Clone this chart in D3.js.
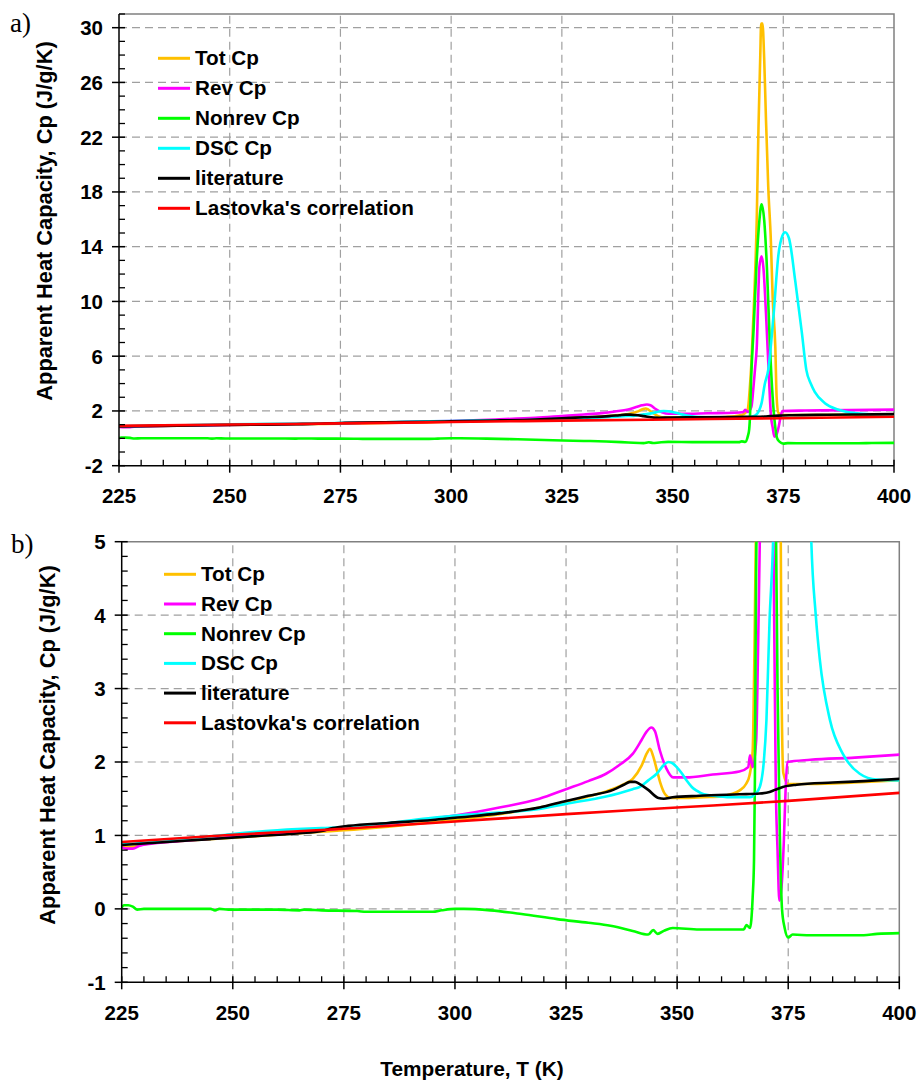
<!DOCTYPE html>
<html><head><meta charset="utf-8">
<script src="https://cdn.jsdelivr.net/npm/d3@7"></script>
<style>
body{margin:0;background:#fff}
svg{display:block}
text{font-family:"Liberation Sans",Arial,sans-serif;font-weight:bold;fill:#000}
</style>
</head><body>
<svg id="c" width="919" height="1080"></svg>
<script>
// ---------- data ----------
const seriesNames = ["Tot Cp","Rev Cp","Nonrev Cp","DSC Cp","literature","Lastovka's correlation"];
const seriesColors = ["#FFC000","#FF00FF","#00FF00","#00FFFF","#000000","#FF0000"];
const xTicks = [225,250,275,300,325,350,375,400];
const yTicksA = [-2,2,6,10,14,18,22,26,30];
const yTicksB = [-1,0,1,2,3,4,5];
const xTitle = "Temperature, T (K)";
const yTitle = "Apparent Heat Capacity, Cp (J/g/K)";

const totCp = [[225,0.86],[226,0.84],[228,0.85],[230,0.88],[240,0.93],[250,0.97],[260,1.01],[270,1.05],[275,1.07],[285,1.12],[295,1.18],[300,1.21],[310,1.29],[319,1.38],[325,1.46],[330,1.53],[334,1.60],[338,1.70],[340,1.77],[342,1.95],[343.2,2.12],[343.9,2.18],[344.6,2.08],[345.4,1.90],[346.2,1.72],[347.3,1.56],[348.5,1.51],[352,1.51],[356,1.52],[360,1.53],[362,1.56],[364,1.61],[365.5,1.70],[366.3,1.82],[367,2.15],[367.4,3.5],[367.8,5.5],[368.4,10],[369.0,15.9],[369.4,22.7],[369.8,27.9],[370.0,30.3],[370.3,30.3],[370.7,27.6],[371.1,23.2],[371.6,18.4],[372.2,14.4],[372.6,10.3],[373.2,6.65],[373.5,3.0],[373.9,1.85],[375,1.70],[380,1.70],[390,1.72],[400,1.75]];
const revCp = [[225,0.84],[226,0.82],[227.5,0.82],[229,0.86],[232,0.89],[240,0.93],[250,0.98],[260,1.03],[270,1.07],[275,1.10],[285,1.16],[295,1.23],[300,1.27],[310,1.38],[319,1.50],[325,1.63],[330,1.74],[334,1.84],[337,1.96],[340,2.11],[342,2.30],[343.1,2.41],[344.2,2.47],[345,2.42],[346.1,2.16],[347.6,1.91],[349.1,1.79],[352,1.79],[358,1.83],[364,1.87],[366,1.93],[366.4,2.09],[367,1.93],[367.8,2.3],[368.2,3.5],[368.6,5.0],[369.0,6.6],[369.6,12.5],[370.1,13.3],[370.5,12.5],[371.1,9.1],[371.8,4.2],[372.2,1.7],[372.6,0.8],[373.0,0.11],[373.5,0.3],[374.0,0.9],[374.4,1.6],[374.8,2.0],[380,2.03],[390,2.06],[400,2.10]];
const nonrevCp = [[225,0.02],[225.5,0.05],[226.5,0.05],[227.5,0.03],[228.5,-0.01],[230,0.0],[245,0.0],[246,-0.02],[247,0.0],[249,-0.01],[260,-0.01],[265,-0.02],[266,-0.01],[270,-0.02],[278,-0.03],[280,-0.04],[295,-0.04],[297,-0.02],[300,0.0],[302,0.0],[308,-0.02],[315,-0.07],[323,-0.14],[330,-0.19],[335,-0.23],[340,-0.30],[343.5,-0.35],[344.6,-0.29],[345.6,-0.34],[347,-0.30],[349,-0.26],[355,-0.28],[365,-0.28],[365.6,-0.22],[366.4,-0.26],[367,0.16],[367.3,0.66],[367.5,1.75],[367.7,4],[368.3,8],[369.0,13],[369.6,15.9],[370.1,17.1],[370.7,15.9],[371.3,12.5],[372.0,6.65],[372.6,3.0],[373.1,1.07],[373.6,0.0],[374.2,-0.26],[375,-0.39],[376,-0.35],[380,-0.36],[385,-0.36],[392,-0.36],[395,-0.34],[400,-0.33]];
const dscCp = [[225,0.88],[230,0.90],[240,0.96],[244,0.98],[250,1.02],[260,1.07],[270,1.10],[275,1.11],[285,1.17],[295,1.24],[300,1.27],[310,1.31],[319,1.36],[325,1.43],[334,1.53],[340,1.63],[341.6,1.66],[343.5,1.75],[345.4,1.84],[347,1.96],[348,2.0],[349,1.98],[349.9,1.93],[351,1.85],[352.1,1.75],[353.3,1.66],[354.4,1.61],[356,1.56],[358.1,1.54],[362,1.52],[366.4,1.52],[367.5,1.56],[368.6,1.66],[369.5,2.0],[370.1,2.57],[370.8,3.93],[371.6,5.0],[372.8,9.0],[373.9,13.4],[374.8,14.8],[375.4,15.05],[376.3,14.6],[377.7,11.5],[379.2,7.7],[380.2,5.0],[381.2,4.0],[382.1,3.4],[384.4,2.57],[387.3,2.11],[391.1,1.84],[394.9,1.76],[400,1.75]];
const literature = [[225,0.87],[235,0.91],[245,0.95],[255,0.99],[265,1.03],[270,1.06],[272.5,1.10],[276,1.13],[285,1.17],[295,1.21],[300,1.24],[310,1.30],[319,1.38],[325,1.47],[330,1.54],[335.6,1.62],[338,1.69],[339.4,1.73],[340.5,1.73],[341.6,1.70],[343.5,1.62],[345.8,1.51],[347,1.50],[349,1.52],[355,1.54],[364,1.56],[368.6,1.57],[370.8,1.59],[372,1.62],[373.8,1.66],[376.9,1.69],[385,1.72],[392,1.74],[400,1.77]];
const lastovka = [[225,0.91],[250,1.01],[275,1.09],[300,1.19],[325,1.29],[350,1.38],[375,1.47],[400,1.58]];

const allSeries = [totCp, revCp, nonrevCp, dscCp, literature, lastovka];

// ---------- drawing ----------
const svg = d3.select("#c");
const panels = [
  {id:"a", label:"a)", lx:10, ly:32, x0:119, x1:894, y0:465.7, y1:14, dom:[-2,31], ticks:yTicksA, minor:1,
   ytx:52, yty:221, xlabY:503, legX:158, legY:58.3, legDy:30},
  {id:"b", label:"b)", lx:11, ly:552.7, x0:121.7, x1:899.3, y0:982.3, y1:541.7, dom:[-1,5], ticks:yTicksB, minor:0.2,
   ytx:54.5, yty:745, xlabY:1020, legX:164, legY:574.3, legDy:29.7}
];

panels.forEach(p => {
  const x = d3.scaleLinear().domain([225,400]).range([p.x0,p.x1]);
  const y = d3.scaleLinear().domain(p.dom).range([p.y0,p.y1]);
  const g = svg.append("g");

  // grid
  g.selectAll(".vg").data(xTicks.filter(t=>t>225 && t<400)).join("line")
    .attr("x1",d=>x(d)).attr("x2",d=>x(d)).attr("y1",p.y0).attr("y2",p.y1)
    .attr("stroke","#a0a0a0").attr("stroke-width",1.2).attr("stroke-dasharray","8,5");
  g.selectAll(".hg").data(p.ticks.filter(t=>t>p.dom[0] && t<p.dom[1])).join("line")
    .attr("x1",p.x0).attr("x2",p.x1).attr("y1",d=>y(d)).attr("y2",d=>y(d))
    .attr("stroke","#a0a0a0").attr("stroke-width",1.2).attr("stroke-dasharray","8,5");

  // frame top/right
  g.append("path").attr("d",`M${p.x0},${p.y1}H${p.x1}V${p.y0}`)
    .attr("fill","none").attr("stroke","#808080").attr("stroke-width",1.5);

  // clip
  svg.append("clipPath").attr("id","clip"+p.id).append("rect")
    .attr("x",p.x0).attr("y",p.y1).attr("width",p.x1-p.x0).attr("height",p.y0-p.y1);

  const line = d3.line().x(d=>x(d[0])).y(d=>y(d[1])).curve(d3.curveMonotoneX);
  const lg = g.append("g").attr("clip-path",`url(#clip${p.id})`);
  allSeries.forEach((s,i)=>{
    lg.append("path").datum(s).attr("d",line).attr("fill","none")
      .attr("stroke",seriesColors[i]).attr("stroke-width",2.6)
      .attr("stroke-linejoin","round").attr("stroke-linecap","round");
  });

  // axes
  const ax = g.append("g").attr("stroke","#000").attr("stroke-width",1.5);
  ax.append("line").attr("x1",p.x0).attr("x2",p.x1).attr("y1",p.y0).attr("y2",p.y0);
  ax.append("line").attr("x1",p.x0).attr("x2",p.x0).attr("y1",p.y0).attr("y2",p.y1);
  const xMinor = d3.range(225,400.01,5).filter(v=>!xTicks.includes(v));
  ax.selectAll(".xm").data(xMinor).join("line")
    .attr("x1",d=>x(d)).attr("x2",d=>x(d)).attr("y1",p.y0).attr("y2",p.y0-6).attr("stroke-width",1.3);
  ax.selectAll(".xM").data(xTicks).join("line")
    .attr("x1",d=>x(d)).attr("x2",d=>x(d)).attr("y1",p.y0-6).attr("y2",p.y0+7);
  const nMin = Math.round((p.dom[1]-p.dom[0])/p.minor);
  const yMinor = d3.range(0,nMin+1).map(k=>+(p.dom[0]+k*p.minor).toFixed(4))
    .filter(v=>!p.ticks.some(t=>Math.abs(t-v)<1e-6));
  ax.selectAll(".ym").data(yMinor).join("line")
    .attr("x1",p.x0).attr("x2",p.x0+6).attr("y1",d=>y(d)).attr("y2",d=>y(d)).attr("stroke-width",1.3);
  ax.selectAll(".yM").data(p.ticks).join("line")
    .attr("x1",p.x0-7).attr("x2",p.x0+6).attr("y1",d=>y(d)).attr("y2",d=>y(d));

  // tick labels
  g.selectAll(".xl").data(xTicks).join("text")
    .attr("x",d=>x(d)).attr("y",p.xlabY).attr("text-anchor","middle")
    .style("font-size","20.5px").text(d=>d);
  g.selectAll(".yl").data(p.ticks).join("text")
    .attr("x",p.x0-16).attr("y",d=>y(d)).attr("dy","0.36em").attr("text-anchor","end")
    .style("font-size","20.5px").text(d=>d);

  // y title
  g.append("text").attr("transform",`translate(${p.ytx},${p.yty}) rotate(-90)`)
    .attr("text-anchor","middle").style("font-size","21.8px").text(yTitle);

  // panel label
  g.append("text").attr("x",p.lx).attr("y",p.ly)
    .style("font-family","'Liberation Serif','Times New Roman',serif").style("font-weight","normal")
    .style("font-size","27px").text(p.label);

  // legend
  seriesNames.forEach((n,i)=>{
    const yy = p.legY + i*p.legDy;
    g.append("line").attr("x1",p.legX).attr("x2",p.legX+32).attr("y1",yy).attr("y2",yy)
      .attr("stroke",seriesColors[i]).attr("stroke-width",3);
    g.append("text").attr("x",p.legX+37).attr("y",yy+7).style("font-size","20.7px").text(n);
  });
});

// x title
svg.append("text").attr("x",472).attr("y",1076).attr("text-anchor","middle")
  .style("font-size","20.8px").text(xTitle);
</script>
</body></html>
